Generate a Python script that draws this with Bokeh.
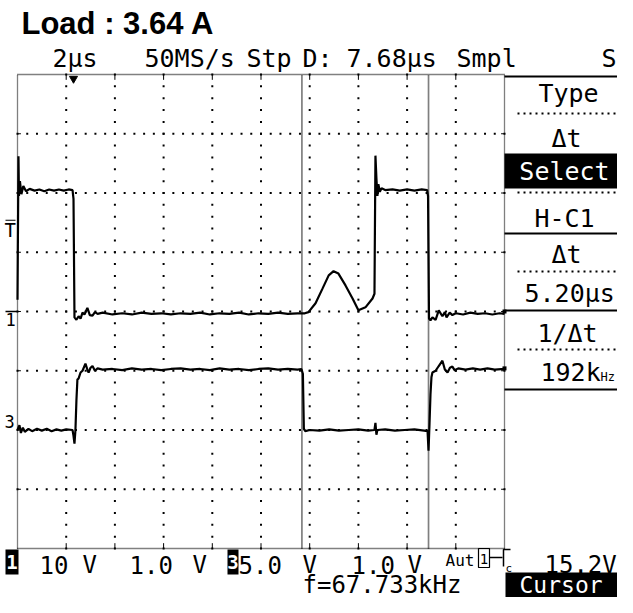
import numpy as np
from bokeh.plotting import figure
from bokeh.models import Range1d
from bokeh.core.properties import value
from bokeh.embed import file_html
from bokeh.resources import INLINE

# ---------------- data ----------------
n_xdiv = 10          # 2 us / div
n_ydiv = 8
t_full = 20.0        # us across the screen

ch1_t = [0.00, 0.04, 0.06, 0.10, 0.16, 0.24, 0.35, 0.50, 0.70, 0.90,
         1.10, 1.30, 1.50, 1.70, 1.90, 2.10, 2.26, 2.30, 2.34, 2.42,
         2.51, 2.59, 2.67, 2.75, 2.87, 2.97, 3.08, 3.18, 3.29, 3.50,
         3.90, 4.30, 4.70, 5.10, 5.50, 5.90, 6.30, 6.70, 7.10, 7.50,
         7.90, 8.30, 8.70, 9.10, 9.50, 9.90, 10.30, 10.70, 11.10, 11.50,
         11.80, 11.95, 12.24, 12.53, 12.78, 12.98, 13.18, 13.47, 13.76, 14.00,
         14.29, 14.58, 14.66, 14.70, 14.74, 14.78, 14.82, 14.88, 14.95, 15.10,
         15.40, 15.70, 16.00, 16.30, 16.60, 16.82, 16.86, 16.90, 16.96, 17.04,
         17.17, 17.30, 17.45, 17.55, 17.62, 17.75, 17.86, 18.00, 18.30, 18.60,
         18.90, 19.20, 19.50, 19.80, 20.00]
ch1_v = [4.20, 6.62, 5.95, 6.20, 5.98, 6.12, 6.03, 6.07, 6.04, 6.06,
         6.03, 6.06, 6.04, 6.06, 6.04, 6.06, 6.05, 5.90, 3.90, 3.86,
         3.92, 3.88, 3.98, 3.95, 4.06, 3.94, 3.93, 3.99, 3.96, 3.98,
         3.95, 3.97, 3.95, 3.98, 3.96, 3.97, 3.95, 3.97, 3.96, 3.98,
         3.95, 3.97, 3.96, 3.98, 3.95, 3.97, 3.96, 3.98, 3.96, 3.97,
         3.97, 3.99, 4.14, 4.39, 4.61, 4.68, 4.64, 4.44, 4.22, 4.02,
         4.07, 4.22, 4.30, 6.63, 6.25, 5.95, 6.15, 6.02, 6.08, 6.05,
         6.06, 6.04, 6.06, 6.04, 6.06, 6.05, 5.95, 3.88, 3.85, 3.90,
         3.86, 4.02, 3.92, 3.99, 3.90, 3.98, 3.94, 3.97, 3.95, 3.98,
         3.96, 3.97, 3.95, 3.97, 3.96]

ch3_t = [0.00, 0.08, 0.14, 0.22, 0.30, 0.45, 0.60, 0.80, 1.00, 1.20,
         1.40, 1.60, 1.80, 2.00, 2.26, 2.30, 2.34, 2.38, 2.42, 2.46,
         2.51, 2.59, 2.67, 2.79, 2.87, 2.92, 3.00, 3.08, 3.18, 3.29,
         3.50, 3.90, 4.30, 4.70, 5.10, 5.50, 5.90, 6.30, 6.70, 7.10,
         7.50, 7.90, 8.30, 8.70, 9.10, 9.50, 9.90, 10.30, 10.70, 11.10,
         11.50, 11.66, 11.72, 11.76, 11.82, 12.00, 12.40, 12.80, 13.20, 13.60,
         14.00, 14.40, 14.66, 14.70, 14.74, 14.78, 15.10, 15.50, 15.90, 16.30,
         16.70, 16.84, 16.88, 16.92, 16.96, 17.00, 17.04, 17.17, 17.30, 17.45,
         17.55, 17.66, 17.76, 17.86, 17.95, 18.10, 18.40, 18.70, 19.00, 19.30,
         19.60, 20.00]
ch3_v = [2.00, 2.08, 1.95, 2.04, 1.97, 2.02, 1.98, 2.02, 1.99, 2.02,
         1.98, 2.01, 1.99, 2.01, 2.00, 1.90, 1.77, 2.00, 2.50, 2.85,
         2.87, 2.97, 3.00, 3.12, 3.02, 2.97, 3.05, 3.08, 3.00, 3.04,
         3.02, 3.03, 3.01, 3.04, 3.02, 3.03, 3.01, 3.03, 3.04, 3.02,
         3.03, 3.01, 3.04, 3.02, 3.03, 3.01, 3.03, 3.04, 3.02, 3.03,
         3.02, 3.03, 2.95, 2.02, 1.98, 2.00, 1.99, 2.01, 1.99, 2.00,
         2.01, 1.99, 2.00, 2.12, 1.92, 2.00, 2.01, 1.99, 2.00, 2.01,
         1.99, 1.98, 1.65, 2.10, 2.60, 2.89, 2.97, 3.00, 3.08, 3.17,
         3.02, 2.97, 3.05, 3.07, 3.01, 3.04, 3.02, 3.04, 3.02, 3.04,
         3.02, 3.03]

cursor_t = [11.68, 16.88]
trigger_t = 2.30
ch1_ground = 4.0
ch3_ground = 2.0
trigger_level = 5.37
right_marks_v = [4.0, 3.04]

title_text = "Load : 3.64 A"
status_top = ["2µs", "50MS/s", "Stp", "D:", "7.68µs", "Smpl", "S"]
menu_items = ["Type", "Δt", "Select", "H-C1", "Δt", "5.20µs", "1/Δt", "192k"]
status_bottom = ["10", "V", "1.0", "V", "5.0", "V", "1.0", "V", "15.2V"]
freq_text = "f=67.733kHz"
softkey_text = "Cursor"

# ---------------- layout ----------------
W, H = 617, 597
GX0, GX1 = 17, 504     # graticule left/right (px)
GY0, GY1 = 74, 548     # graticule top/bottom (px)
ppt = (GX1 - GX0) / t_full
ppv = (GY1 - GY0) / n_ydiv
x_start = -GX0 / ppt
x_end = t_full + (W - GX1) / ppt
y_start = -(H - GY1) / ppv
y_end = n_ydiv + GY0 / ppv

p = figure(width=W, height=H, x_range=Range1d(x_start, x_end),
           y_range=Range1d(y_start, y_end), output_backend="svg",
           toolbar_location=None, min_border=0, x_axis_location=None,
           y_axis_location=None, outline_line_color=None,
           background_fill_color="white", border_fill_color="white")
p.grid.visible = False
p.extra_x_ranges = {"px": Range1d(0, W)}
p.extra_y_ranges = {"px": Range1d(H, 0)}

MONO = "DejaVu Sans Mono"


def txt(x, y, s, size, align="left", color="black", font=MONO,
        style="normal"):
    # y is the vertical middle of the text line
    p.text(x=[x], y=[y], text=[s], x_range_name="px", y_range_name="px",
           text_font=value(font), text_font_size=value(f"{size}px"),
           text_font_style=style, text_align=align, text_baseline="middle",
           text_color=color)


# graticule dots
tdiv = t_full / n_xdiv
vx, vy = [], []
for i in range(1, n_xdiv):
    for v in np.arange(0, n_ydiv + 1e-9, 0.2):
        vx.append(i * tdiv); vy.append(v)
for j in range(1, n_ydiv):
    for t in np.arange(0, t_full + 1e-9, tdiv / 5):
        vx.append(t); vy.append(j)
p.scatter(vx, vy, marker="square", size=2, fill_color="black",
          line_color=None)

# frame (dense dotted)
p.multi_line(xs=[[0, t_full], [0, t_full], [0, 0], [t_full, t_full]],
             ys=[[0, 0], [n_ydiv, n_ydiv], [0, n_ydiv], [0, n_ydiv]],
             line_color="black", line_width=1.3, line_dash="1 1")

# edge ticks
tx = [i * tdiv for i in range(1, n_xdiv)]
p.segment(x0=tx, y0=[n_ydiv] * len(tx), x1=tx, y1=[n_ydiv - 0.09] * len(tx),
          line_color="black", line_width=1)
p.segment(x0=tx, y0=[0] * len(tx), x1=tx, y1=[0.09] * len(tx),
          line_color="black", line_width=1)
ty = list(range(1, n_ydiv))
p.segment(x0=[0] * len(ty), y0=ty, x1=[0.14] * len(ty), y1=ty,
          line_color="black", line_width=1)
p.segment(x0=[t_full] * len(ty), y0=ty, x1=[t_full - 0.14] * len(ty), y1=ty,
          line_color="black", line_width=1)
p.scatter([t_full] * len(right_marks_v), right_marks_v, marker="square",
          size=4, fill_color="black", line_color=None)

# cursors
p.segment(x0=cursor_t, y0=[0, 0], x1=cursor_t, y1=[n_ydiv, n_ydiv],
          line_color="black", line_width=1.7, line_dash="1 1")

# traces
p.line(ch1_t, ch1_v, line_color="black", line_width=2.2)
p.line(ch3_t, ch3_v, line_color="black", line_width=2.2)

# trigger position marker
p.scatter([trigger_t], [n_ydiv - 0.07], marker="inverted_triangle", size=8,
          fill_color="black", line_color="black")

# ground / trigger-level markers at left edge
p.segment(x0=[5], y0=[ch1_ground], x1=[17], y1=[ch1_ground],
          x_range_name="px", line_color="black", line_width=1.5)
p.text(x=[5], y=[ch1_ground], text=["1"], x_range_name="px",
       text_font=value(MONO), text_font_size=value("17px"),
       text_baseline="top", y_offset=1, text_color="black")
p.text(x=[4], y=[ch3_ground], text=["3"], x_range_name="px",
       text_font=value(MONO), text_font_size=value("17px"),
       text_baseline="bottom", y_offset=-2, text_color="black")
p.text(x=[4], y=[trigger_level], text=["T"], x_range_name="px",
       text_font=value(MONO), text_font_size=value("19px"),
       text_baseline="middle", text_color="black")
p.segment(x0=[5], y0=[trigger_level + 0.17], x1=[15], y1=[trigger_level + 0.17],
          x_range_name="px", line_color="black", line_width=1.2)

# ---------------- texts ----------------
txt(21, 23, title_text, 31, font="Liberation Sans", style="bold")

top_x = [52, 144, 246, 302, 346, 456, 601]
for s, x in zip(status_top, top_x):
    txt(x, 58, s, 25)

# right menu panel
for y in [76, 233, 310, 389]:
    p.segment(x0=[GX1], y0=[y], x1=[W], y1=[y], x_range_name="px",
              y_range_name="px", line_color="black", line_width=2)
for y in [113, 192, 271, 349]:
    p.segment(x0=[517], y0=[y], x1=[W], y1=[y], x_range_name="px",
              y_range_name="px", line_color="black", line_width=2,
              line_dash="2 4")
p.quad(left=[GX1], right=[W], top=[153], bottom=[188], x_range_name="px",
       y_range_name="px", fill_color="black", line_color=None)

menu_y = [93, 138, 171, 218, 254, 293, 333, 372]
menu_align = ["center", "center", "center", "center", "center", "left",
              "center", "left"]
menu_x = [568, 566, 564, 564, 566, 524, 567, 540]
for s, x, y, a in zip(menu_items, menu_x, menu_y, menu_align):
    txt(x, y, s, 25, align=a, color="white" if s == "Select" else "black")
txt(600, 376, "Hz", 12)

# bottom status line
p.quad(left=[5, 227], right=[18, 238], top=[549, 549], bottom=[574, 574],
       x_range_name="px", y_range_name="px", fill_color="black",
       line_color=None)
txt(11.5, 561, "1", 19, align="center", color="white", style="bold")
txt(232.5, 561, "3", 19, align="center", color="white", style="bold")
bot_x = [39, 82, 129, 192, 238, 302, 351, 407, 544]
for s, x in zip(status_bottom, bot_x):
    txt(x, 564, s, 24)
txt(445, 560, "Aut", 16)
p.quad(left=[478], right=[489], top=[548], bottom=[567], x_range_name="px",
       y_range_name="px", fill_color=None, line_color="black", line_width=1.2)
txt(483.5, 558, "1", 14, align="center")
p.multi_line(xs=[[489, 502], [503, 503, 510]], ys=[[557, 557], [566, 549, 549]],
             x_range_name="px", y_range_name="px", line_color="black",
             line_width=1.5)
txt(505, 568, "c", 11)

txt(302, 584, freq_text, 24)
p.quad(left=[505], right=[W], top=[572], bottom=[H], x_range_name="px",
       y_range_name="px", fill_color="black", line_color=None)
txt(519, 584, softkey_text, 23, color="white")

open("out.html", "w").write(file_html(p, INLINE))
